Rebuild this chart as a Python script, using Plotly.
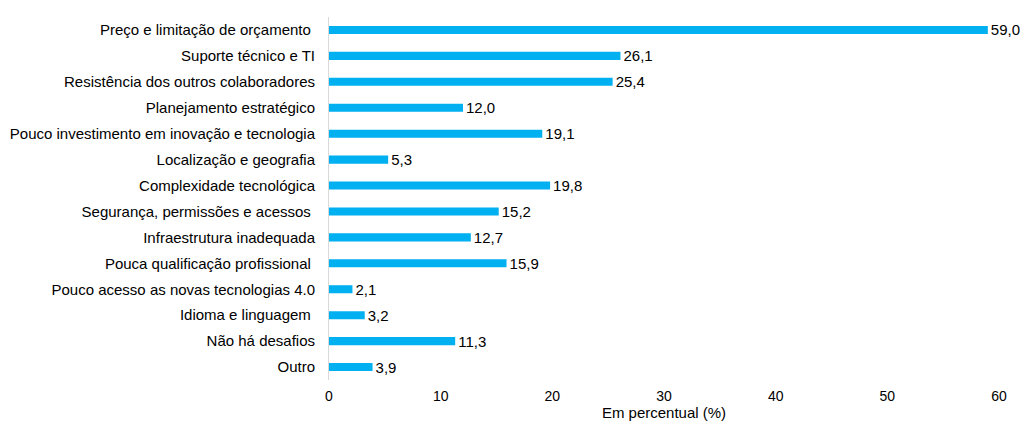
import plotly.graph_objects as go

categories = [
    "Preço e limitação de orçamento ",
    "Suporte técnico e TI",
    "Resistência dos outros colaboradores",
    "Planejamento estratégico",
    "Pouco investimento em inovação e tecnologia",
    "Localização e geografia",
    "Complexidade tecnológica",
    "Segurança, permissões e acessos ",
    "Infraestrutura inadequada",
    "Pouca qualificação profissional ",
    "Pouco acesso as novas tecnologias 4.0",
    "Idioma e linguagem ",
    "Não há desafios",
    "Outro",
]
values = [59.0, 26.1, 25.4, 12.0, 19.1, 5.3, 19.8, 15.2, 12.7, 15.9, 2.1, 3.2, 11.3, 3.9]
x_ticks = [0, 10, 20, 30, 40, 50, 60]
x_title = "Em percentual (%)"

fig = go.Figure(go.Bar(
    x=values,
    y=categories,
    orientation="h",
    marker=dict(color="#00B0F0", line=dict(width=0)),
    texttemplate="%{x:.1f}",
    textposition="outside",
    constraintext="none",
    textfont=dict(family="Liberation Sans, Arial", size=15, color="#000000"),
    cliponaxis=False,
))

fig.update_layout(
    width=1024, height=444,
    margin=dict(l=329, r=25, t=17, b=64),
    paper_bgcolor="white", plot_bgcolor="white",
    separators=", ",
    bargap=0.69,
    showlegend=False,
    uniformtext=dict(mode=False),
    font=dict(family="Liberation Sans, Arial", size=15, color="#000000"),
    xaxis=dict(
        range=[0, 60], tickvals=x_ticks, showgrid=False, zeroline=False,
        showline=False, ticks="", tickfont=dict(size=14), automargin=False,
        ticklabelstandoff=6,
        title=dict(text=x_title, font=dict(size=15), standoff=4),
    ),
    yaxis=dict(
        autorange="reversed", showgrid=False, zeroline=False,
        showline=True, linecolor="#D9D9D9", linewidth=1,
        ticks="outside", ticklen=10, tickcolor="white", automargin=False,
        tickfont=dict(size=15),
    ),
)

fig.write_html(
    "out.html",
    config={"displayModeBar": False},
    post_script="document.body.style.margin='0';document.body.style.overflow='hidden';",
)
